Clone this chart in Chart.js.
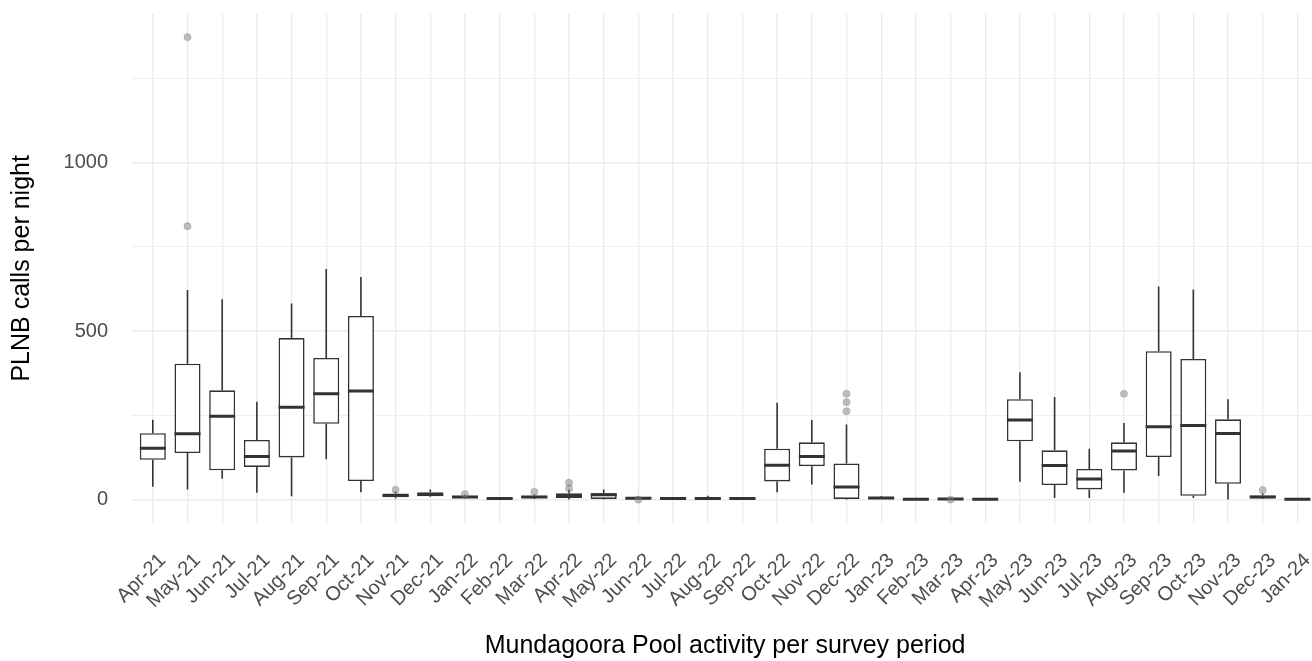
<!DOCTYPE html>
<html>
<head>
<meta charset="utf-8">
<script src="https://cdn.jsdelivr.net/npm/chart.js@4.4.1/dist/chart.umd.min.js"></script>
<style>
  html, body { margin: 0; padding: 0; background: #fff; overflow: hidden; }
  canvas { display: block; }
</style>
</head>
<body>
<canvas id="chart" width="1323" height="661"></canvas>
<script>
// survey periods along the x axis
const months = [
  "Apr-21", "May-21", "Jun-21", "Jul-21", "Aug-21", "Sep-21", "Oct-21", "Nov-21",
  "Dec-21", "Jan-22", "Feb-22", "Mar-22", "Apr-22", "May-22", "Jun-22", "Jul-22",
  "Aug-22", "Sep-22", "Oct-22", "Nov-22", "Dec-22", "Jan-23", "Feb-23", "Mar-23",
  "Apr-23", "May-23", "Jun-23", "Jul-23", "Aug-23", "Sep-23", "Oct-23", "Nov-23",
  "Dec-23", "Jan-24"
];

// five-number summaries (calls per night)
const whiskerLow  = [38, 30, 62, 20, 10, 120, 22, 3, 8, 3, 0, 2, 0, 0, 1, 0, 0, 0, 22, 45, 0, 2, 0, 1, 0, 53, 5, 5, 20, 70, 5, 0, 2, 0];
const q1          = [118, 138, 87, 97, 125, 225, 55, 7, 10, 5, 1, 5, 5, 2, 2, 1, 1, 1, 54, 99, 2, 3, 0, 1, 0, 173, 43, 30, 86, 126, 11, 47, 4, 0];
const median      = [152, 195, 247, 128, 274, 314, 322, 12, 15, 8, 3, 8, 12, 14, 4, 3, 3, 3, 102, 128, 37, 5, 1, 2, 1, 236, 101, 61, 144, 216, 220, 196, 8, 1];
const q3          = [197, 403, 324, 177, 479, 420, 545, 18, 22, 11, 6, 11, 19, 19, 7, 6, 6, 6, 151, 170, 107, 8, 3, 3, 3, 298, 146, 91, 170, 440, 417, 238, 12, 3];
const whiskerHigh = [237, 622, 594, 290, 582, 684, 660, 24, 30, 14, 8, 15, 30, 30, 9, 8, 11, 8, 287, 236, 223, 10, 4, 4, 4, 378, 304, 151, 227, 632, 623, 298, 18, 4];

// outlying nights: period index + value
const outlierMonth = [1, 1, 7, 9, 11, 12, 12, 14, 20, 20, 20, 23, 28, 32];
const outlierValue = [1372, 811, 29, 16, 23, 50, 33, 0, 314, 289, 262, 0, 314, 28];

const majorTicks = [0, 500, 1000];
const minorTicks = [250, 750, 1250];

const BOX_LINE = "#333333";
const GRID = "#ebebeb";
const FONT = "'Liberation Sans', Arial, sans-serif";

// y range padded 5% each side, like ggplot's default expansion
const allValues = [...whiskerLow, ...whiskerHigh, ...outlierValue];
const dataMin = Math.min(...allValues);
const dataMax = Math.max(...allValues);
const yPad = (dataMax - dataMin) * 0.05;

// whiskers and median bars drawn off the box dataset's elements
const boxParts = {
  id: "boxParts",
  beforeDatasetsDraw(chart) {
    const meta = chart.getDatasetMeta(1);
    const y = chart.scales.y;
    const ctx = chart.ctx;
    ctx.save();
    ctx.strokeStyle = BOX_LINE;
    ctx.lineWidth = 1.6;
    ctx.beginPath();
    meta.data.forEach((bar, i) => {
      ctx.moveTo(bar.x, y.getPixelForValue(q3[i]));
      ctx.lineTo(bar.x, y.getPixelForValue(whiskerHigh[i]));
      ctx.moveTo(bar.x, y.getPixelForValue(q1[i]));
      ctx.lineTo(bar.x, y.getPixelForValue(whiskerLow[i]));
    });
    ctx.stroke();
    ctx.restore();
  },
  afterDatasetDraw(chart, args) {
    if (args.index !== 1) return;
    const y = chart.scales.y;
    const ctx = chart.ctx;
    ctx.save();
    ctx.strokeStyle = BOX_LINE;
    ctx.lineWidth = 3;
    ctx.beginPath();
    args.meta.data.forEach((bar, i) => {
      const py = y.getPixelForValue(median[i]);
      ctx.moveTo(bar.x - bar.width / 2, py);
      ctx.lineTo(bar.x + bar.width / 2, py);
    });
    ctx.stroke();
    ctx.restore();
  }
};

new Chart(document.getElementById("chart"), {
  type: "bar",
  data: {
    datasets: [
      {
        type: "scatter",
        order: 0,
        data: outlierMonth.map((m, i) => ({ x: m, y: outlierValue[i] })),
        backgroundColor: "rgba(128,128,128,0.5)",
        borderColor: "rgba(110,110,110,0.35)",
        borderWidth: 0.8,
        pointRadius: 3.6
      },
      {
        type: "bar",
        order: 1,
        data: months.map((m, i) => ({ x: i, y: [q1[i], q3[i]] })),
        backgroundColor: "#ffffff",
        borderColor: BOX_LINE,
        borderWidth: 1.6,
        borderSkipped: false,
        categoryPercentage: 1,
        barPercentage: 0.75
      }
    ]
  },
  options: {
    responsive: false,
    animation: false,
    devicePixelRatio: 1,
    layout: { padding: { top: 14, left: 0, right: 0, bottom: 0 } },
    plugins: {
      legend: { display: false },
      tooltip: { enabled: false }
    },
    scales: {
      x: {
        type: "linear",
        offset: false,
        min: -0.6,
        max: months.length - 0.4,
        afterBuildTicks: (scale) => {
          scale.ticks = months.map((m, i) => ({ value: i }));
        },
        afterFit: (scale) => {
          scale.height = 138.3;
        },
        ticks: {
          autoSkip: false,
          minRotation: 45,
          maxRotation: 45,
          padding: 0,
          labelOffset: 10,
          color: "#4d4d4d",
          font: { family: FONT, size: 20 },
          callback: (v) => months[v]
        },
        grid: {
          offset: false,
          color: GRID,
          lineWidth: 1.3,
          drawTicks: true,
          tickLength: 26,
          tickColor: "rgba(0,0,0,0)"
        },
        border: { display: false },
        title: {
          display: true,
          text: "Mundagoora Pool activity per survey period",
          color: "#000000",
          font: { family: FONT, size: 25 },
          padding: { top: 0, bottom: 0 }
        }
      },
      y: {
        min: dataMin - yPad,
        max: dataMax + yPad,
        afterBuildTicks: (scale) => {
          scale.ticks = [...majorTicks, ...minorTicks].sort((a, b) => a - b).map((v) => ({ value: v }));
        },
        afterFit: (scale) => {
          scale.width = 132;
        },
        ticks: {
          padding: 0,
          color: "#4d4d4d",
          font: { family: FONT, size: 20 },
          callback: (v) => (majorTicks.includes(v) ? v : "")
        },
        grid: {
          color: GRID,
          lineWidth: (c) => (majorTicks.includes(c.tick.value) ? 1.4 : 0.8),
          drawTicks: true,
          tickLength: 24,
          tickColor: "rgba(0,0,0,0)"
        },
        border: { display: false },
        title: {
          display: true,
          text: "PLNB calls per night",
          color: "#000000",
          font: { family: FONT, size: 25 },
          padding: { top: 7, bottom: 0 }
        }
      }
    }
  },
  plugins: [boxParts]
});
</script>
</body>
</html>
